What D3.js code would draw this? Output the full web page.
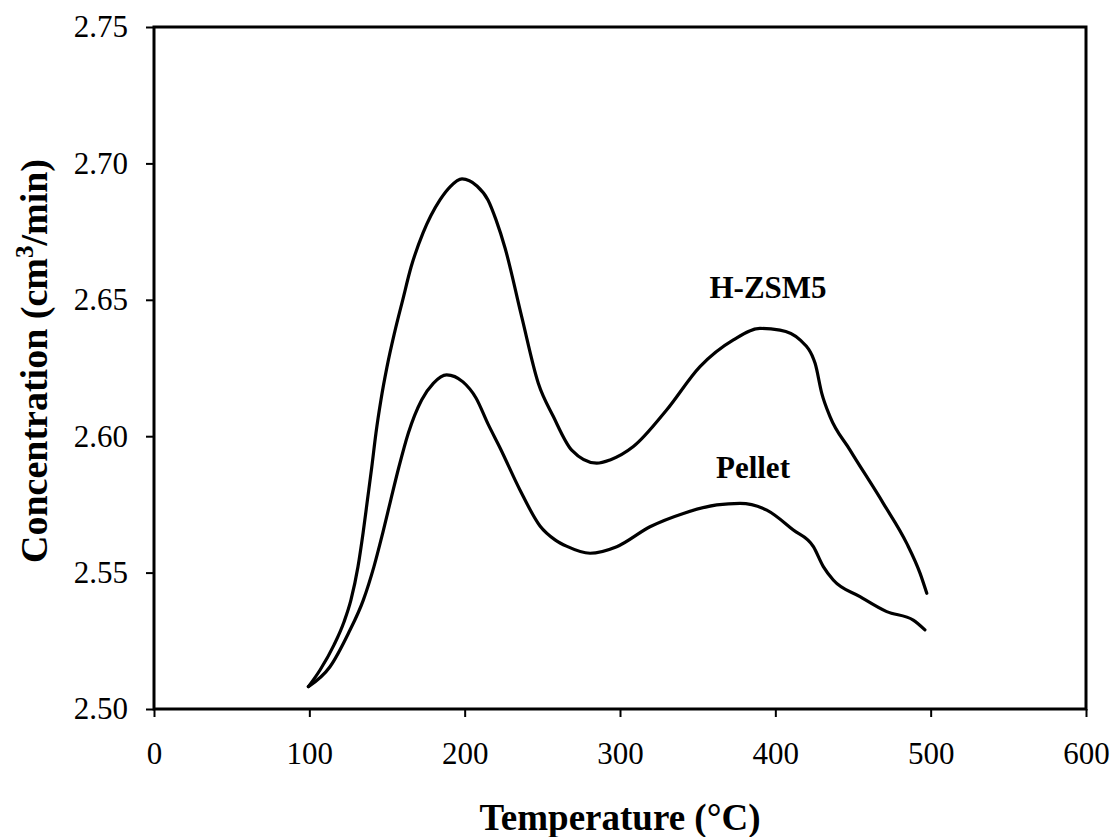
<!DOCTYPE html>
<html>
<head>
<meta charset="utf-8">
<script src="https://cdn.jsdelivr.net/npm/d3@7"></script>
<style>
  html, body { margin: 0; padding: 0; background: #fff; }
  svg { display: block; }
  text { font-family: "Liberation Serif", "Times New Roman", serif; fill: #000; }
</style>
</head>
<body>
<svg id="chart" width="1113" height="837"></svg>
<script>
// ---- data ----
const hzsm5Temp = [99.4, 106.9, 115.9, 122.3, 126.8, 131.3, 134.6, 137.4, 140.2, 142.9, 146.1, 150.0, 154.8, 160.1,
  165.5, 173.2, 184.1, 190.6, 198.3, 207.9, 215.0, 220.2, 226.0, 236.7, 247.4, 257.1, 268.9, 285, 293.6,
  308.6, 330, 351.5, 373, 390.1, 403, 415.9, 425.6, 429.9, 435.2, 448.1, 469.5, 484.6, 493.2, 497.5];
const hzsm5Conc = [2.5082, 2.5143, 2.5235, 2.5319, 2.5400, 2.5521, 2.5645, 2.5766, 2.5887, 2.6012, 2.6133, 2.6254, 2.6378, 2.6499,
  2.6620, 2.6745, 2.6866, 2.6914, 2.6943, 2.6917, 2.6866, 2.6793, 2.6690, 2.6438, 2.6194, 2.6072, 2.5949, 2.5901, 2.5913,
  2.5962, 2.6096, 2.6255, 2.6353, 2.6395, 2.6389, 2.6353, 2.6267, 2.6157, 2.6072, 2.5949, 2.5754, 2.5607, 2.5497, 2.5424];

const pelletTemp = [99.4, 113.3, 125.1, 134.8, 141.6, 147.2, 152.4, 157.7, 163.7, 172.3, 179.8, 188.4, 198.9,
  207.3, 215.0, 222.8, 235.6, 248.5, 258.2, 265.9, 280.7, 297.9, 319.3, 340.8, 362.3, 377.3, 394.5, 411.6, 424.5,
  430.9, 437.3, 454.5, 471.7, 488.8, 496.3];
const pelletConc = [2.5082, 2.5155, 2.5277, 2.5400, 2.5522, 2.5644, 2.5766, 2.5888, 2.6011, 2.6133, 2.6194, 2.6225, 2.6199,
  2.6140, 2.6045, 2.5957, 2.5803, 2.5671, 2.5620, 2.5596, 2.5571, 2.5595, 2.5668, 2.5717, 2.5748, 2.5754, 2.5729, 2.5656, 2.5595,
  2.5522, 2.5473, 2.5412, 2.5357, 2.5326, 2.5290];

const seriesNames = ["H-ZSM5", "Pellet"];
const labelTemp = [395.3, 385.6];
const labelConc = [2.6507, 2.5847];

const xTicks = [0, 100, 200, 300, 400, 500, 600];
const yTicks = [2.50, 2.55, 2.60, 2.65, 2.70, 2.75];
const xTitle = "Temperature (°C)";

// ---- layout ----
const svg = d3.select("#chart");
const mLeft = 154, mRight = 1086, mTop = 27, mBottom = 709;

const x = d3.scaleLinear().domain([0, 600]).range([mLeft, mRight]);
const y = d3.scaleLinear().domain([2.50, 2.75]).range([mBottom, mTop]);

// frame
svg.append("rect")
  .attr("x", mLeft).attr("y", mTop)
  .attr("width", mRight - mLeft).attr("height", mBottom - mTop)
  .attr("fill", "none").attr("stroke", "#000").attr("stroke-width", 3);

// axes
const yAxis = d3.axisLeft(y).tickValues(yTicks).tickSize(8).tickPadding(18)
  .tickFormat(d3.format(".2f"));
const gy = svg.append("g").attr("transform", `translate(${mLeft},0)`).call(yAxis);
const xAxis = d3.axisBottom(x).tickValues(xTicks).tickSize(8).tickPadding(25)
  .tickFormat(d3.format("d"));
const gx = svg.append("g").attr("transform", `translate(0,${mBottom})`).call(xAxis);

[gx, gy].forEach(g => {
  g.select(".domain").remove();
  g.selectAll(".tick line").attr("stroke", "#000").attr("stroke-width", 2);
  g.selectAll(".tick text")
    .style("font-family", '"Liberation Serif", "Times New Roman", serif')
    .style("font-size", "31px").attr("fill", "#000");
});

// lines
const line = d3.line().x(d => x(d[0])).y(d => y(d[1])).curve(d3.curveMonotoneX);
const series = [
  d3.zip(hzsm5Temp, hzsm5Conc),
  d3.zip(pelletTemp, pelletConc)
];
svg.append("g").selectAll("path").data(series).join("path")
  .attr("d", line)
  .attr("fill", "none").attr("stroke", "#000").attr("stroke-width", 3.2)
  .attr("stroke-linejoin", "round").attr("stroke-linecap", "round");

// series labels
svg.append("g").selectAll("text").data(seriesNames).join("text")
  .attr("x", (d, i) => x(labelTemp[i]))
  .attr("y", (d, i) => y(labelConc[i]))
  .attr("text-anchor", "middle")
  .style("font-size", "31px").style("font-weight", "bold")
  .text(d => d);

// axis titles
svg.append("text")
  .attr("x", (mLeft + mRight) / 2).attr("y", 830)
  .attr("text-anchor", "middle")
  .style("font-size", "37px").style("font-weight", "bold")
  .text(xTitle);

const yt = svg.append("text")
  .attr("transform", `translate(47,361) rotate(-90)`)
  .attr("text-anchor", "middle")
  .style("font-size", "38px").style("font-weight", "bold");
yt.append("tspan").text("Concentration (cm");
yt.append("tspan").attr("dy", "-0.55em").style("font-size", "25px").text("3");
yt.append("tspan").attr("dy", "0.36em").text("/min)");
</script>
</body>
</html>
